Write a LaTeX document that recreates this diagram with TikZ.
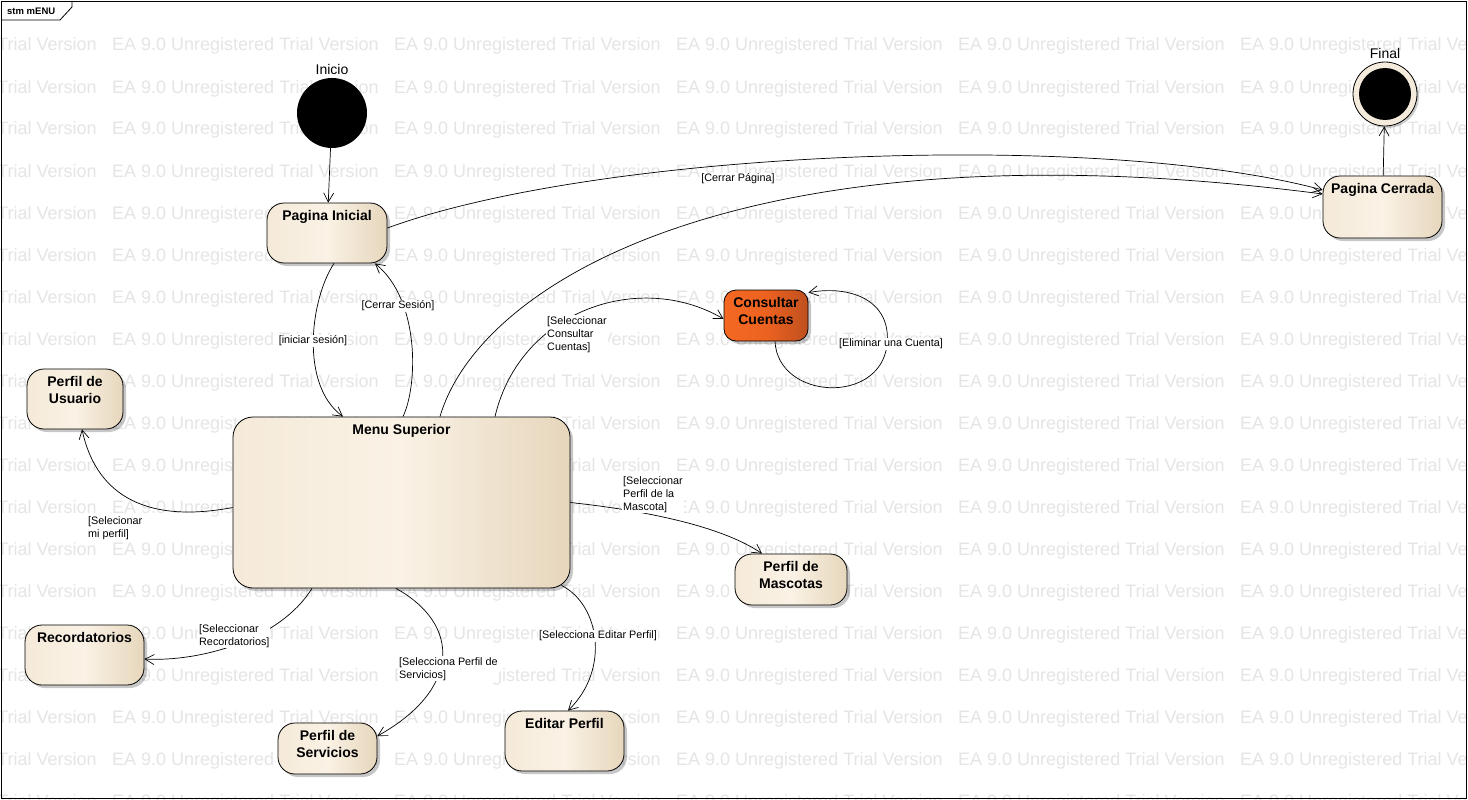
\documentclass[tikz,border=0pt]{standalone}
\usepackage{fontspec}
\setmainfont{Liberation Sans}
\usetikzlibrary{arrows.meta,shadows}
\definecolor{wm}{RGB}{229,229,229}
\definecolor{stL}{RGB}{245,234,217}
\definecolor{stM}{RGB}{250,242,229}
\definecolor{stR}{RGB}{230,214,188}
\definecolor{orL}{RGB}{244,104,34}
\definecolor{orM}{RGB}{236,98,32}
\definecolor{orR}{RGB}{192,80,30}
\definecolor{ringc}{RGB}{245,235,220}
\tikzset{
 state/.style={draw=black, line width=0.8pt, rounded corners=17pt, left color=stL, right color=stR, middle color=stM,
   drop shadow={shadow xshift=3pt, shadow yshift=-3pt, fill=black, opacity=0.22}, inner sep=0pt},
 ostate/.style={state, rounded corners=12pt, left color=orL, right color=orR, middle color=orM},
 ttl/.style={anchor=north, yshift=-8pt, align=center, inner sep=0pt, font=\fontsize{14}{17}\bfseries\selectfont},
 guard/.style={fill=white, inner sep=1pt, align=left, font=\fontsize{10.8}{13}\selectfont},
 arr/.style={-{Straight Barb[length=9pt,width=10pt]}, line width=0.7pt},
 wmtext/.style={anchor=base west, inner sep=0pt, text=wm, font=\fontsize{18}{20}\selectfont},
 pseudo/.style={font=\fontsize{14}{16}\selectfont, inner sep=0pt},
}
\begin{document}
\begin{tikzpicture}[x=1pt, y=-1pt]
\useasboundingbox (0,0) rectangle (1468,800);
\fill[white] (0,0) rectangle (1468,800);
% watermark
\begin{scope}
\clip (0,0) rectangle (1468,800);
\foreach \i in {0,...,5}{\foreach \j in {0,...,18}{
  \node[wmtext] (wm-\i-\j) at ({-170+282*\i},{51+42*\j}) {EA 9.0 Unregistered Trial Version};}}
\end{scope}
% frame
\draw[line width=0.8pt] (1,1) rectangle (1466,798);
\draw[line width=0.8pt] (1,20) -- (60,20) -- (72,7) -- (72,1);
\node[anchor=west, inner sep=0pt, font=\fontsize{9.5}{11}\bfseries\selectfont] (frametitle) at (7,11) {stm mENU};
% pseudo states
\node[circle, fill=black, minimum size=70pt, inner sep=0pt,
  label={[pseudo, label distance=3pt]above:Inicio}] (ini) at (332,113) {};
\node[circle, draw=black, line width=0.8pt, fill=ringc, minimum size=64pt, inner sep=0pt,
  drop shadow={shadow xshift=2pt, shadow yshift=-2pt, fill=black, opacity=0.2},
  label={[pseudo, label distance=3pt]above:Final}] (fin) at (1385,94) {};
\node[circle, fill=black, minimum size=52pt, inner sep=0pt] (finin) at (fin) {};
% states
\node[state, minimum width=120pt, minimum height=60pt, label={[ttl]north:Pagina Inicial}] (pi) at (327,233) {};
\node[state, minimum width=119pt, minimum height=62pt, label={[ttl]north:Pagina Cerrada}] (pc) at (1382.5,207) {};
\node[ostate, minimum width=84pt, minimum height=51pt, label={[ttl]north:Consultar\\Cuentas}] (cc) at (766,315.5) {};
\node[state, minimum width=96pt, minimum height=60pt, label={[ttl]north:Perfil de\\Usuario}] (pu) at (75,399) {};
\node[state, rounded corners=20pt, minimum width=337pt, minimum height=171pt, label={[ttl]north:Menu Superior}] (ms) at (401.5,502.5) {};
\node[state, minimum width=112pt, minimum height=51pt, label={[ttl]north:Perfil de\\Mascotas}] (pm) at (791,579.5) {};
\node[state, minimum width=119pt, minimum height=60pt, label={[ttl]north:Recordatorios}] (rec) at (84.5,655) {};
\node[state, minimum width=99pt, minimum height=51pt, label={[ttl]north:Perfil de\\Servicios}] (ps) at (327.5,748.5) {};
\node[state, minimum width=119pt, minimum height=60pt, label={[ttl]north:Editar Perfil}] (ep) at (564.5,741) {};
% transitions
\draw[arr] (ini) -- (pi);
\draw[arr] (pc) -- (fin);
\draw[arr] ([xshift=7pt]pi.south) .. controls (310,300) and (300,385) .. ([xshift=-58.5pt]ms.north);
\draw[arr] ([xshift=1.5pt]ms.north) .. controls (418,385) and (420,300) .. ([xshift=48pt]pi.south);
\draw[arr] ([yshift=5pt]pi.east) .. controls (600,150) and (1100,130) .. ([yshift=17pt]pc.west);
\draw[arr] ([xshift=38.5pt]ms.north) .. controls (480,280) and (750,120) .. ([yshift=13pt]pc.west);
\draw[arr] ([xshift=93.5pt]ms.north) .. controls (520,310) and (640,270) .. ([yshift=-3.5pt]cc.west);
\draw[arr] ([xshift=9pt]cc.south) .. controls (778,400) and (880,405) .. (887,345)
   .. controls (892,300) and (850,285) .. ([yshift=-3pt]cc.north east);
\draw[arr] ([yshift=-5pt]ms.west) .. controls (140,525) and (95,490) .. ([xshift=7pt]pu.south);
\draw[arr] (ms.east) .. controls (640,510) and (720,525) .. ([xshift=-29pt]pm.north);
\draw[arr] ([xshift=-89.5pt]ms.south) .. controls (280,640) and (200,662) .. ([yshift=-4pt]rec.east);
\draw[arr] ([xshift=-5.5pt]ms.south) .. controls (462,625) and (460,690) .. ([yshift=12.5pt]ps.east);
\draw[arr] ([xshift=160pt,yshift=3pt]ms.south) .. controls (600,605) and (610,670) .. ([xshift=3.5pt]ep.north);
% guards
\node[guard] (g1) at (313,341) {[iniciar sesión]};
\node[guard] (g2) at (398,306) {[Cerrar Sesión]};
\node[guard] (g3) at (738,179) {[Cerrar Página]};
\node[guard, anchor=north west] (g4) at (546,315) {[Seleccionar\\Consultar\\Cuentas]};
\node[guard] (g5) at (891,344) {[Eliminar una Cuenta]};
\node[guard, anchor=north west] (g6) at (87,515) {[Selecionar\\mi perfil]};
\node[guard, anchor=north west] (g7) at (622,475) {[Seleccionar\\Perfil de la\\Mascota]};
\node[guard, anchor=north west] (g8) at (198,623) {[Seleccionar\\Recordatorios]};
\node[guard, anchor=north west] (g9) at (398,656) {[Selecciona Perfil de\\Servicios]};
\node[guard] (g10) at (598,636) {[Selecciona Editar Perfil]};
\end{tikzpicture}
\end{document}
